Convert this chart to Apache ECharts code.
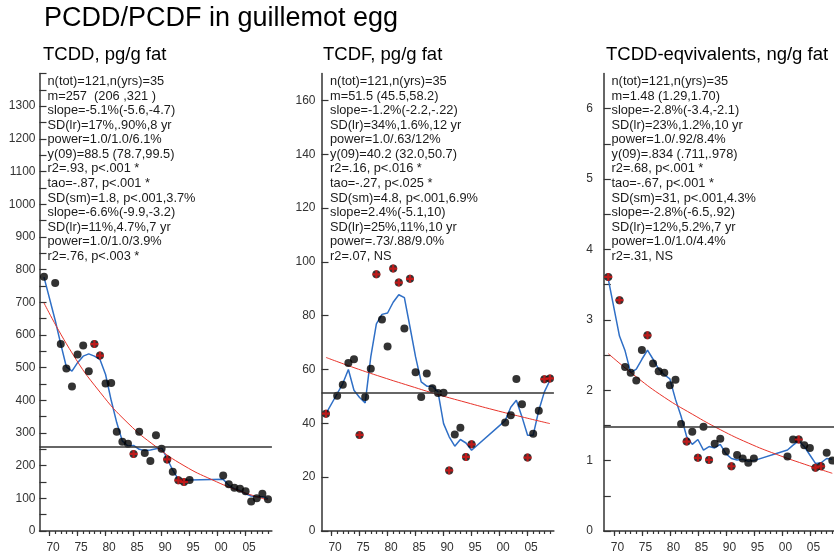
<!DOCTYPE html>
<html><head><meta charset="utf-8">
<script src="https://cdn.jsdelivr.net/npm/echarts@6.0.0/dist/echarts.min.js"></script>
<style>html,body{margin:0;padding:0;background:#fff}#c{width:834px;height:558px}</style>
</head><body><div id="c"></div>
<script>
// ---------- data ----------
const years = [1969,1971,1972,1973,1974,1975,1976,1977,1978,1979,1980,1981,1982,1983,1984,1985,1986,1987,1988,1989,1990,1991,1992,1993,1994,1995,2001,2002,2003,2004,2005,2006,2007,2008,2009];

const tcddValues = [778,759,572,497,442,540,568,489,572,537,451,453,304,273,267,236,304,239,214,293,252,219,181,155,150,156,170,143,132,129,122,90,100,114,97];
const tcddFlag   = [0,0,0,0,0,0,0,0,1,1,0,0,0,0,0,1,0,0,0,0,0,1,0,1,1,0,0,0,0,0,0,0,0,0,0];
const tcddSmooth = [777,645,572,502,489,515,535,542,535,525,479,400,331,275,260,262,250,246,248,252,255,221,186,158,153,156,158,140,129,124,114,107,105,105,99];

const tcdfValues = [43.6,50.3,54.3,62.4,63.8,35.7,49.8,60.3,95.4,78.6,68.6,97.5,92.3,75.2,93.7,59.0,49.8,58.5,53.0,51.3,51.4,22.5,35.9,38.4,27.5,32.2,40.3,43.0,56.5,47.1,27.3,36.1,44.7,56.4,56.7];
const tcdfFlag   = [1,0,0,0,0,1,0,0,1,0,0,1,1,0,1,0,0,0,0,0,0,1,0,0,1,1,0,0,0,0,1,0,0,1,1];
const tcdfSmooth = [43.6,51,54.8,60,52.3,49.6,47.6,64.7,77,80.5,81,85,87.8,86.7,75.8,64.7,55.4,53.8,53.8,51.7,39.9,35,31.5,34,32.7,30,41,46,48.6,42.4,35.6,35.6,44.8,51.7,56];

const teqValues = [3.61,3.28,2.33,2.25,2.14,2.57,2.78,2.38,2.27,2.25,2.07,2.15,1.52,1.27,1.41,1.04,1.48,1.01,1.24,1.31,1.13,0.92,1.08,1.03,0.97,1.03,1.06,1.30,1.30,1.22,1.18,0.90,0.92,1.11,1.00];
const teqFlag   = [1,1,0,0,0,0,1,0,0,0,0,0,0,1,0,1,0,1,0,0,0,1,0,0,0,0,0,0,1,0,0,1,1,0,0];
const teqSmooth = [3.58,2.77,2.56,2.25,2.30,2.44,2.57,2.44,2.30,2.22,2.16,1.87,1.63,1.34,1.23,1.30,1.15,1.20,1.18,1.23,1.10,1.03,1.01,1.02,0.99,1.00,1.15,1.22,1.28,1.20,1.08,0.96,0.97,1.03,1.02];

const fitYears = [1969,1974,1979,1984,1989,1994,1999,2004,2009];
const tcddFit = [698,545,425,330,258,200,157,122,95];
const tcdfFit = [64.5,60.7,57.2,53.9,50.7,47.8,45.0,42.4,39.9];
const teqFit  = [2.52,2.19,1.90,1.66,1.44,1.25,1.09,0.95,0.82];

const means = [257, 51.5, 1.48];

const xLabelYears = [1970,1975,1980,1985,1990,1995,2000,2005];
const xTickYears = [1970,1971,1972,1973,1974,1975,1976,1977,1978,1979,1980,1981,1982,1983,1984,1985,1986,1987,1988,1989,1990,1991,1992,1993,1994,1995,1996,1997,1998,1999,2000,2001,2002,2003,2004,2005,2006,2007,2008,2009];

const tcddYLabels = [0,100,200,300,400,500,600,700,800,900,1000,1100,1200,1300];
const tcddYTicks = [0,50,100,150,200,250,300,350,400,450,500,550,600,650,700,750,800,850,900,950,1000,1050,1100,1150,1200,1250,1300,1350,1400];
const tcdfYLabels = [0,20,40,60,80,100,120,140,160];
const tcdfYTicks = [0,20,40,60,80,100,120,140,160];
const teqYLabels = [0,1,2,3,4,5,6];
const teqYTicks = [0,0.5,1,1.5,2,2.5,3,3.5,4,4.5,5,5.5,6];

const mainTitle = 'PCDD/PCDF in guillemot egg';
const subtitles = ['TCDD, pg/g fat', 'TCDF, pg/g fat', 'TCDD-eqvivalents, ng/g fat'];

const tcddStats = ["n(tot)=121,n(yrs)=35","m=257  (206 ,321 )","slope=-5.1%(-5.6,-4.7)","SD(lr)=17%,.90%,8 yr","power=1.0/1.0/6.1%","y(09)=88.5 (78.7,99.5)","r2=.93, p<.001 *","tao=-.87, p<.001 *","SD(sm)=1.8, p<.001,3.7%","slope=-6.6%(-9.9,-3.2)","SD(lr)=11%,4.7%,7 yr","power=1.0/1.0/3.9%","r2=.76, p<.003 *"];
const tcdfStats = ["n(tot)=121,n(yrs)=35","m=51.5 (45.5,58.2)","slope=-1.2%(-2.2,-.22)","SD(lr)=34%,1.6%,12 yr","power=1.0/.63/12%","y(09)=40.2 (32.0,50.7)","r2=.16, p<.016 *","tao=-.27, p<.025 *","SD(sm)=4.8, p<.001,6.9%","slope=2.4%(-5.1,10)","SD(lr)=25%,11%,10 yr","power=.73/.88/9.0%","r2=.07, NS"];
const teqStats = ["n(tot)=121,n(yrs)=35","m=1.48 (1.29,1.70)","slope=-2.8%(-3.4,-2.1)","SD(lr)=23%,1.2%,10 yr","power=1.0/.92/8.4%","y(09)=.834 (.711,.978)","r2=.68, p<.001 *","tao=-.67, p<.001 *","SD(sm)=31, p<.001,4.3%","slope=-2.8%(-6.5,.92)","SD(lr)=12%,5.2%,7 yr","power=1.0/1.0/4.4%","r2=.31, NS"];

// ---------- layout ----------
const FONT = "'Liberation Sans', Arial, sans-serif";
const X_MIN = 1968.2, X_MAX = 2009.7;
const panels = [
  {values: tcddValues, flags: tcddFlag, smooth: tcddSmooth, fit: tcddFit, mean: means[0], yMax: 1400, yLabels: tcddYLabels, yTicks: tcddYTicks, labelMargin: 4, stats: tcddStats, left: 39.5, statX: 47.5, subX: 43},
  {values: tcdfValues, flags: tcdfFlag, smooth: tcdfSmooth, fit: tcdfFit, mean: means[1], yMax: 170, yLabels: tcdfYLabels, yTicks: tcdfYTicks, labelMargin: 6, stats: tcdfStats, left: 321.5, statX: 330, subX: 323},
  {values: teqValues, flags: teqFlag, smooth: teqSmooth, fit: teqFit, mean: means[2], yMax: 6.5, yLabels: teqYLabels, yTicks: teqYTicks, labelMargin: 11, stats: teqStats, left: 603.8, statX: 611.5, subX: 606}
];

const plusPath = 'path://M3.6,0H6.4V3.6H10V6.4H6.4V10H3.6V6.4H0V3.6H3.6Z';
const grid = [], xAxis = [], yAxis = [], series = [], graphic = [];

graphic.push({type:'text', x:44, y:19, style:{text:mainTitle, fontSize:27, fontFamily:FONT, fill:'#000', verticalAlign:'middle'}});

panels.forEach((p, i) => {
  grid.push({left:p.left, top:73.5, width:232.4, height:457.5, containLabel:false, outerBoundsMode:'none'});
  xAxis.push({type:'value', gridIndex:i, min:X_MIN, max:X_MAX, position:'bottom',
    axisLine:{show:true, onZero:false, lineStyle:{color:'#333', width:1.5}},
    axisTick:{show:true, customValues:xLabelYears, length:5, lineStyle:{color:'#333', width:1.2}},
    axisLabel:{show:true, customValues:xLabelYears, formatter:v => String(v).slice(2), fontSize:12, fontFamily:FONT, color:'#333', margin:11, padding:[0,0,0,7]},
    splitLine:{show:false}});
  xAxis.push({type:'value', gridIndex:i, min:X_MIN, max:X_MAX, position:'bottom',
    axisLine:{show:false, onZero:false},
    axisTick:{show:true, customValues:xTickYears, length:3, lineStyle:{color:'#333', width:1.2}},
    axisLabel:{show:false}, splitLine:{show:false}});
  yAxis.push({type:'value', gridIndex:i, min:0, max:p.yMax,
    axisLine:{show:true, lineStyle:{color:'#333', width:1.5}},
    axisTick:{show:true, inside:true, length:7, customValues:p.yTicks, lineStyle:{color:'#333', width:1.2}},
    axisLabel:{show:true, customValues:p.yLabels, formatter:v => String(v), margin:p.labelMargin, fontSize:12, fontFamily:FONT, color:'#333'},
    splitLine:{show:false}});

  const normal = [], flagged = [];
  years.forEach((y, k) => { (p.flags[k] ? flagged : normal).push([y, p.values[k]]); });

  series.push({type:'line', xAxisIndex:2*i, yAxisIndex:i, data: years.map((y,k)=>[y, p.smooth[k]]),
    showSymbol:false, symbol:'none', lineStyle:{color:'#2f6fc6', width:1.5}, z:2, silent:true});
  series.push({type:'line', xAxisIndex:2*i, yAxisIndex:i, data: fitYears.map((y,k)=>[y, p.fit[k]]),
    smooth:true, showSymbol:false, symbol:'none', lineStyle:{color:'#e8332a', width:1}, z:2, silent:true,
    markLine:{silent:true, symbol:'none', label:{show:false}, lineStyle:{color:'#333', width:1.5, type:'solid'}, data:[{yAxis:p.mean}]}});
  series.push({type:'scatter', xAxisIndex:2*i, yAxisIndex:i, data: normal, symbol:'circle', symbolSize:8, itemStyle:{color:'#000'}, z:3});
  series.push({type:'scatter', xAxisIndex:2*i, yAxisIndex:i, data: flagged, symbol:'circle', symbolSize:8, itemStyle:{color:'#000'}, z:3});
  series.push({type:'scatter', xAxisIndex:2*i, yAxisIndex:i, data: flagged, symbol:plusPath, symbolSize:8, itemStyle:{color:'#e01515'}, z:4});

  graphic.push({type:'text', x:p.subX, y:55, style:{text:subtitles[i], fontSize:18.5, fontFamily:FONT, fill:'#000', verticalAlign:'middle'}});
  graphic.push({type:'text', x:p.statX, y:74.4, style:{text:p.stats.join('\n'), fontSize:12.8, lineHeight:14.55, fontFamily:FONT, fill:'#1a1a1a', verticalAlign:'top'}});
});

const chart = echarts.init(document.getElementById('c'), null, {renderer:'canvas'});
chart.setOption({animation:false, backgroundColor:'#fff', grid, xAxis, yAxis, series, graphic});
</script></body></html>
